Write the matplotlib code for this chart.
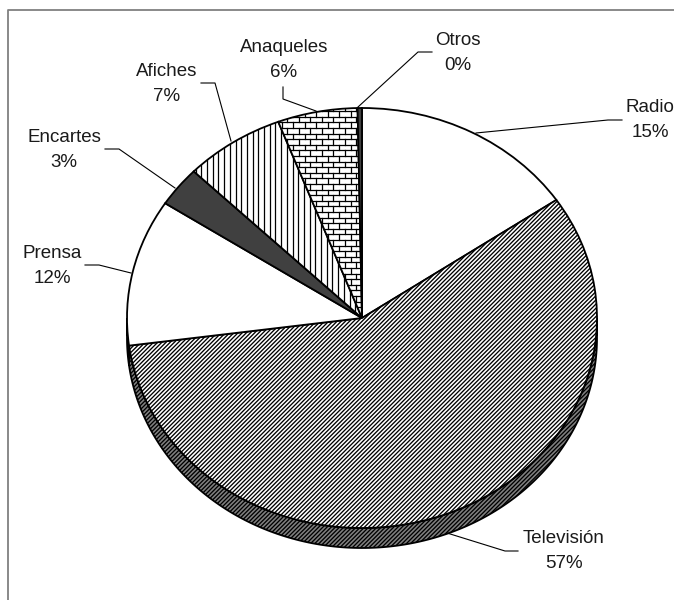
import numpy as np
import matplotlib
matplotlib.use('Agg')
import matplotlib.pyplot as plt

plt.rcParams['font.family'] = ['Liberation Sans', 'DejaVu Sans']
plt.rcParams['hatch.linewidth'] = 0.95

# slices, clockwise from 12 o'clock
names = ['Radio', 'Televisión', 'Prensa', 'Encartes', 'Afiches', 'Anaqueles', 'Otros']
values = [15.5, 57.4, 11.3, 3.1, 6.9, 5.5, 0.3]
percents = ['15%', '57%', '12%', '3%', '7%', '6%', '0%']

faces = ['white', 'white', 'white', '#404040', 'white', 'white', '#404040']
hatches = [None, '////////', None, None, None, None, None]

# layout in pixels
cx, cy = 362, 318
rx, ry = 235, 210
depth = 20

labelPos = [(650, 120), (564, 551), (52, 266), (64, 150), (167, 84), (284, 60), (458, 53)]
leaders = [
    [(476, 133), (608, 120), (622, 120)],
    [(447, 533), (505, 551), (518, 551)],
    [(85, 265), (99, 265), (131, 273)],
    [(105, 149), (119, 149), (175, 188)],
    [(201, 83), (215, 83), (231, 141)],
    [(283, 87), (283, 99), (316, 111)],
    [(432, 52), (418, 52), (358, 107)],
]

fig = plt.figure(figsize=(6.74, 6), dpi=100)
ax = fig.add_axes([0, 0, 1, 1])

wedges, _ = ax.pie(values, startangle=90, counterclock=False, radius=1, center=(0, 0),
                   colors=faces, wedgeprops={'edgecolor': 'black', 'linewidth': 1.3})
for w, h in zip(wedges, hatches):
    if h:
        w.set_hatch(h)
    w.set_zorder(3)
ax.set_aspect('auto')
ax.set_xlim(-cx / rx, (674 - cx) / rx)
ax.set_ylim(-(600 - cy) / ry, cy / ry)

# side wall of the disc, below the front rim
tvEnd = 90 - 360 * (values[0] + values[1]) / sum(values) + 360
def wall(t0, t1, **kw):
    t = np.radians(np.linspace(t0, t1, 200))
    x = np.cos(t)
    y = np.sin(t)
    d = depth / ry
    ax.fill(np.r_[x, x[::-1]], np.r_[y, y[::-1] - d], zorder=2, linewidth=1.3, **kw)

wall(180, tvEnd, facecolor='white', edgecolor='black')
wall(tvEnd, 360, facecolor='#808080', edgecolor='black', hatch='////////')

# overlay in pixel coordinates
top = fig.add_axes([0, 0, 1, 1], frameon=False)
top.set_xlim(0, 674)
top.set_ylim(600, 0)
top.set_xticks([])
top.set_yticks([])

# chart border, runs off the right and bottom of the picture
top.plot([8, 8, 674], [600, 10, 10], color='#808080', linewidth=1.3, clip_on=False)

# vertical stripes in the Afiches slice
for xx in np.arange(190, 365, 5.7):
    line, = top.plot([xx, xx], [100, 330], color='black', linewidth=0.9, zorder=4)
    line.set_clip_path(wedges[4])

# brick pattern in the Anaqueles slice
brickW, brickH = 11.5, 5.6
rows = np.arange(100, 330, brickH)
for i, yy in enumerate(rows):
    line, = top.plot([270, 370], [yy, yy], color='black', linewidth=0.9, zorder=4)
    line.set_clip_path(wedges[5])
    for xx in np.arange(270 + (i % 2) * brickW / 2, 370, brickW):
        line, = top.plot([xx, xx], [yy, yy + brickH], color='black', linewidth=0.9, zorder=4)
        line.set_clip_path(wedges[5])

for name, pct, (x, y), path in zip(names, percents, labelPos, leaders):
    top.text(x, y, name + '\n' + pct, ha='center', va='center', fontsize=13.5,
             color='#1a1a1a', linespacing=1.55)
    top.plot([p[0] for p in path], [p[1] for p in path], color='black', linewidth=0.8)

fig.savefig('out.png', dpi=100)
